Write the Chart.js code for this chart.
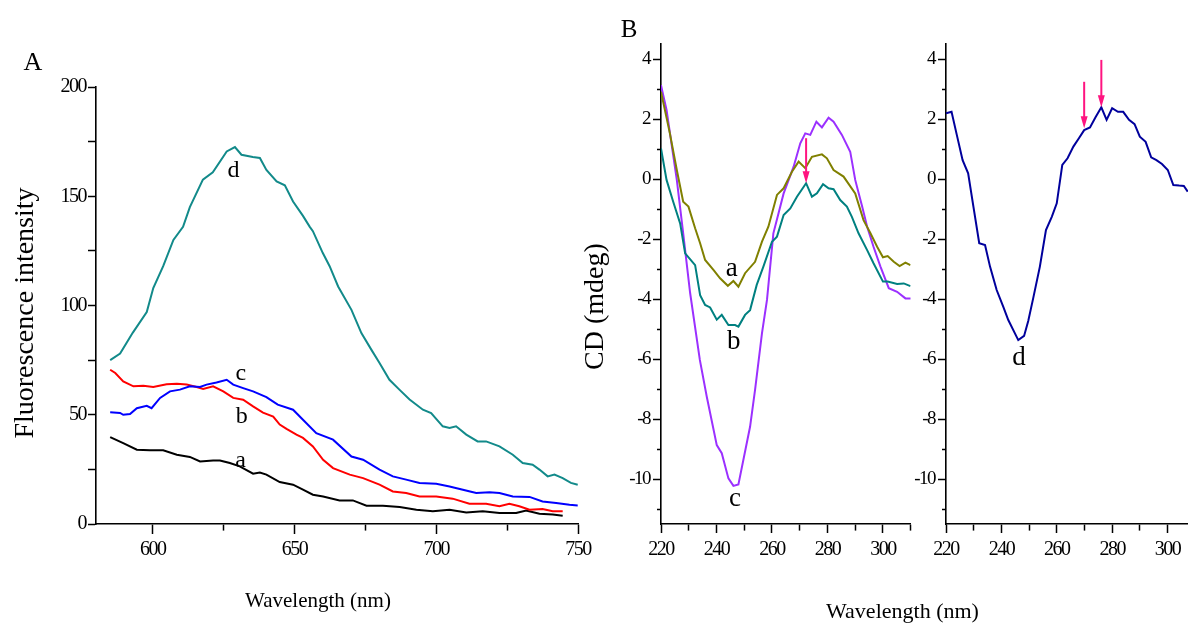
<!DOCTYPE html>
<html>
<head>
<meta charset="utf-8">
<script src="https://cdn.jsdelivr.net/npm/chart.js@4.4.1/dist/chart.umd.min.js"></script>
<style>
html, body { margin: 0; padding: 0; background: #fff; }
#wrap { position: relative; width: 1188px; height: 626px; overflow: hidden; }
canvas { position: absolute; top: 0; }
</style>
</head>
<body>
<div id="wrap">
  <canvas id="fluo" width="600" height="626" style="left:0px"></canvas>
  <canvas id="cdLeft" width="608" height="626" style="left:580px"></canvas>
  <canvas id="cdRight" width="278" height="626" style="left:910px"></canvas>
</div>
<script>
//-------------------------------------------------------- data: panel A (fluorescence)
const aX = [585.0, 589.6, 594.4, 599.0, 603.7, 608.5, 613.1, 616.7, 621.3, 623.7, 627.2, 630.7, 635.4, 637.8, 640.1, 644.8, 649.5, 653.0, 656.5, 660.1, 665.9, 670.6, 675.4, 681.2, 687.1, 693.0, 698.8, 704.7, 710.6, 716.4, 722.3, 728.2, 731.7, 736.4, 741.1, 744.6];
const aY = [39.8, 37, 34, 33.7, 33.7, 31.7, 30.7, 28.6, 29.1, 29.1, 27.9, 26.4, 23, 23.6, 22.6, 19.2, 18, 15.7, 13.4, 12.6, 10.8, 10.8, 8.4, 8.4, 7.8, 6.5, 5.8, 6.5, 5.3, 5.8, 5, 5, 6.2, 4.7, 4.3, 3.8];

const bX = [585.0, 586.8, 589.6, 593.2, 596.7, 600.2, 604.9, 608.5, 612.0, 615.5, 617.8, 621.3, 624.9, 628.4, 631.9, 635.4, 638.9, 642.5, 644.8, 647.2, 650.7, 653.0, 656.5, 660.1, 663.6, 669.5, 674.2, 680.0, 684.7, 689.4, 694.1, 700.0, 705.8, 711.7, 717.6, 722.3, 725.8, 729.3, 732.9, 737.5, 741.1, 744.6];
const bY = [70.6, 69.1, 65.3, 63, 63.3, 62.7, 64, 64.2, 63.8, 62.7, 61.8, 63, 60.7, 57.7, 56.9, 53.8, 51, 49.2, 45.5, 43.5, 40.9, 39.4, 35.5, 29.4, 25.6, 22.6, 21, 18, 14.9, 14.2, 12.6, 12.6, 11.6, 9.3, 9.3, 8.1, 9.3, 8.1, 6.5, 6.9, 5.8, 5.8];

const cX = [585.0, 588.5, 589.6, 592.0, 594.4, 597.9, 599.6, 602.6, 606.1, 609.6, 613.1, 616.7, 619.0, 622.5, 626.1, 628.4, 631.9, 635.4, 640.1, 644.1, 649.5, 653.0, 657.7, 663.6, 670.1, 674.2, 680.0, 684.7, 689.4, 694.1, 700.0, 704.7, 709.4, 714.1, 718.8, 722.3, 727.0, 732.9, 737.5, 742.3, 747.0, 749.9];
const cY = [51.1, 50.8, 50, 50.3, 53, 54.1, 53, 57.7, 60.7, 61.5, 63, 62.7, 63.8, 64.8, 66, 63.8, 62.2, 60.7, 58.1, 54.6, 52.3, 47.7, 41.6, 38.6, 30.9, 29.4, 24.9, 21.8, 20.3, 18.8, 18.4, 17.2, 15.7, 14.2, 14.5, 14.2, 12.6, 12.4, 10.3, 9.6, 8.8, 8.5];

const dX = [585.0, 588.5, 593.0, 597.9, 600.2, 603.7, 607.3, 610.7, 613.1, 617.7, 621.2, 626.1, 629.0, 631.3, 635.3, 637.8, 640.1, 643.7, 646.6, 649.5, 653.0, 655.4, 656.5, 660.0, 662.4, 665.4, 670.1, 673.6, 677.1, 680.0, 683.5, 687.0, 690.6, 695.3, 698.2, 702.3, 704.7, 707.0, 710.6, 714.6, 717.6, 722.3, 727.0, 730.5, 734.0, 736.4, 739.3, 741.7, 744.6, 747.5, 749.9];
const dY = [75, 78, 87.6, 97, 108, 118, 130, 136, 145, 157.6, 161, 170.5, 172.5, 169, 168, 167.5, 162, 156.8, 155, 147.6, 141, 136, 134, 124, 118, 108.7, 98, 87.4, 79.8, 73.7, 66, 61.5, 57, 52.3, 50.8, 44.7, 44, 44.7, 40.9, 37.8, 37.8, 35.5, 31.7, 27.9, 27.1, 24.9, 21.8, 22.6, 21, 18.8, 18];

const fluoXTicks = [600, 625, 650, 675, 700, 725, 750];
const fluoYTicks = [0, 25, 50, 75, 100, 125, 150, 175, 200];

//-------------------------------------------------------- data: panel B (CD)
const cdAX = [220, 223.2, 225.7, 228, 229.9, 232.3, 234.1, 235.9, 238.9, 241.3, 244.1, 246.1, 247.9, 250.3, 253.9, 256.4, 258.7, 261.8, 264.2, 267.2, 269.6, 272, 274.4, 278, 279.8, 282.2, 285.8, 290, 293, 295.5, 297.9, 300, 301.7, 303.9, 306, 308.1, 309.9];
const cdAY = [2.91, 1.52, 0.3, -0.76, -0.92, -1.64, -2.14, -2.7, -3.03, -3.31, -3.56, -3.4, -3.59, -3.14, -2.76, -2.09, -1.59, -0.53, -0.31, 0.24, 0.58, 0.36, 0.74, 0.82, 0.69, 0.3, 0.08, -0.48, -1.37, -1.81, -2.26, -2.61, -2.57, -2.76, -2.9, -2.79, -2.87];

const cdBX = [220, 222, 224.4, 226.9, 228.7, 232.3, 234.1, 235.9, 237.7, 240.1, 241.9, 244.3, 246.7, 247.9, 250.3, 252.1, 254.5, 256.9, 260, 261.8, 264.2, 266.6, 269, 272.3, 274.4, 276.2, 278.4, 280.4, 282.2, 284.6, 287, 288.8, 291.2, 294.3, 296.6, 300, 301.7, 305.1, 307.5, 309.9];
const cdBY = [1.02, -0.03, -0.76, -1.48, -2.48, -2.87, -3.87, -4.2, -4.28, -4.69, -4.53, -4.87, -4.87, -4.92, -4.53, -4.37, -3.53, -2.92, -2.09, -1.92, -1.2, -0.98, -0.59, -0.14, -0.59, -0.48, -0.17, -0.31, -0.34, -0.7, -0.92, -1.26, -1.81, -2.37, -2.81, -3.42, -3.42, -3.5, -3.48, -3.57];

const cdCX = [220, 222, 225.7, 228, 230.5, 234, 236.5, 240.1, 241.9, 244.3, 246.1, 247.9, 252.1, 253.9, 256.4, 258.2, 260.5, 264.2, 267.8, 270.2, 272, 273.8, 276, 278, 280.4, 282.2, 285.2, 288.2, 290, 292.5, 294.3, 296.6, 299.1, 302.1, 305.1, 308.1, 310];
const cdCY = [3.13, 2.3, -0.03, -1.81, -3.8, -6.03, -7.26, -8.87, -9.14, -9.98, -10.23, -10.18, -8.26, -7.03, -5.14, -4.03, -1.81, -0.48, 0.41, 1.19, 1.52, 1.47, 1.91, 1.72, 2.04, 1.91, 1.47, 0.91, -0.03, -0.92, -1.59, -2.26, -2.92, -3.64, -3.76, -3.98, -3.98];

const cdDX = [220, 222, 223.9, 226, 228, 229.9, 232, 234.1, 235.9, 238.3, 240.7, 242.5, 246.1, 248.2, 249.7, 251.5, 253.9, 256.1, 258.2, 260, 262, 263.9, 266, 268, 269.9, 272, 274, 276.1, 278, 280, 282.1, 284, 286.1, 288.1, 290, 292.1, 294.1, 296, 298, 300.1, 302.1, 304.2, 305.9, 307.3];
const cdDY = [2.19, 2.24, 1.47, 0.63, 0.19, -0.92, -2.14, -2.2, -2.92, -3.7, -4.26, -4.7, -5.37, -5.23, -4.73, -3.97, -2.92, -1.7, -1.26, -0.81, 0.47, 0.69, 1.08, 1.36, 1.63, 1.72, 2.06, 2.39, 1.97, 2.36, 2.24, 2.24, 1.97, 1.83, 1.41, 1.24, 0.72, 0.63, 0.5, 0.3, -0.2, -0.22, -0.23, -0.42];

const cdXTicksLeft = [220, 230, 240, 250, 260, 270, 280, 290, 300, 310];
const cdXTicksRight = [220, 230, 240, 250, 260, 270, 280, 290, 300];
const cdYTicks = [-11, -10, -9, -8, -7, -6, -5, -4, -3, -2, -1, 0, 1, 2, 3, 4];

// arrows: wavelength, start value, tip value
const arrowsLeft = [[272.3, 1.36, -0.14]];
const arrowsRight = [[269.9, 3.24, 1.69], [276.1, 3.97, 2.39]];

Chart.defaults.font.family = '"Liberation Serif", "Times New Roman", serif';
Chart.defaults.color = '#000';

function series(xs, ys, color) {
    return {
        data: xs.map((x, i) => ({ x: x, y: ys[i] })),
        borderColor: color,
        borderWidth: 2,
        pointRadius: 0,
        tension: 0,
        fill: false
    };
}

function axis(opt) {
    return {
        type: 'linear',
        min: opt.min,
        max: opt.max,
        afterBuildTicks: s => { s.ticks = opt.ticks.map(v => ({ value: v })); },
        afterFit: s => { if (opt.width) s.width = opt.width; if (opt.height) s.height = opt.height; },
        border: { display: true, color: '#000', width: 1.6 },
        grid: {
            drawOnChartArea: false,
            drawTicks: true,
            tickLength: opt.tickLen,
            color: '#000',
            tickWidth: 1.5,
            // minor ticks drawn shorter through a dash pattern
            tickBorderDash: c => (c.tick && c.tick.value % opt.every !== 0) ? opt.minorDash : []
        },
        ticks: {
            font: { size: opt.fontSize },
            padding: opt.pad,
            autoSkip: false,
            maxRotation: 0,
            callback: v => (v % opt.every === 0 ? v : '')
        }
    };
}

// curve letters, arrows and free text
const annot = {
    id: 'annot',
    beforeDraw(chart) {
        chart.ctx.letterSpacing = '-1.5px';
    },
    afterDraw(chart, args, o) {
        const ctx = chart.ctx;
        const xs = chart.scales.x, ys = chart.scales.y;
        ctx.save();
        ctx.letterSpacing = '0px';
        (o.arrows || []).forEach(a => {
            const x = xs.getPixelForValue(a[0]);
            const y0 = ys.getPixelForValue(a[1]);
            const y1 = ys.getPixelForValue(a[2]);
            ctx.strokeStyle = o.arrowColor;
            ctx.fillStyle = o.arrowColor;
            ctx.lineWidth = 2;
            ctx.beginPath();
            ctx.moveTo(x, y0);
            ctx.lineTo(x, y1 - 8);
            ctx.stroke();
            ctx.beginPath();
            ctx.moveTo(x, y1);
            ctx.lineTo(x - 3.5, y1 - 12);
            ctx.lineTo(x + 3.5, y1 - 12);
            ctx.closePath();
            ctx.fill();
        });
        ctx.fillStyle = '#000';
        ctx.textAlign = 'center';
        ctx.textBaseline = 'alphabetic';
        (o.letters || []).forEach(l => {
            ctx.font = o.letterSize + 'px "Liberation Serif", serif';
            ctx.fillText(l[0], xs.getPixelForValue(l[1]), ys.getPixelForValue(l[2]));
        });
        (o.texts || []).forEach(t => {
            ctx.save();
            ctx.font = t.size + 'px "Liberation Serif", serif';
            ctx.translate(t.x, t.y);
            if (t.rot) ctx.rotate(-Math.PI / 2);
            ctx.fillText(t.text, 0, 0);
            ctx.restore();
        });
        ctx.restore();
    }
};

function baseOptions(padding, xAxis, yAxis, annotOpts) {
    return {
        responsive: false,
        animation: false,
        layout: { padding: padding },
        scales: { x: xAxis, y: yAxis },
        plugins: {
            legend: { display: false },
            tooltip: { enabled: false },
            annot: annotOpts
        }
    };
}

//-------------------------------------------------------- A
new Chart(document.getElementById('fluo'), {
    type: 'line',
    data: {
        datasets: [
            series(dX, dY, '#128a8a'),
            series(cX, cY, '#0000ff'),
            series(bX, bY, '#ff0000'),
            series(aX, aY, '#000000')
        ]
    },
    options: baseOptions(
        { left: 0, top: 87, right: 22, bottom: 0 },
        axis({ min: 580, max: 750, ticks: fluoXTicks, every: 50, tickLen: 10, minorDash: [6, 50], fontSize: 20, pad: 4, height: 102 }),
        axis({ min: 0, max: 200, ticks: fluoYTicks, every: 50, tickLen: 8, minorDash: [], fontSize: 20, pad: 2, width: 96 }),
        {
            letterSize: 24,
            letters: [['d', 628.5, 158.8], ['c', 631.1, 66], ['b', 631.4, 46.2], ['a', 631, 26.1]],
            texts: [
                { text: 'A', x: 33, y: 69.5, size: 26 },
                { text: 'Fluorescence intensity', x: 33, y: 313, size: 28, rot: true },
                { text: 'Wavelength (nm)', x: 318, y: 606.5, size: 21 }
            ]
        }
    ),
    plugins: [annot]
});

//-------------------------------------------------------- B left
new Chart(document.getElementById('cdLeft'), {
    type: 'line',
    data: {
        datasets: [
            series(cdAX, cdAY, '#808000'),
            series(cdBX, cdBY, '#008080'),
            series(cdCX, cdCY, '#9b30ff')
        ]
    },
    options: baseOptions(
        { left: 0, top: 44, right: 277.3, bottom: 0 },
        axis({ min: 220, max: 310, ticks: cdXTicksLeft, every: 20, tickLen: 9, minorDash: [6, 50], fontSize: 20, pad: 5, height: 102 }),
        axis({ min: -11.5, max: 4.5, ticks: cdYTicks, every: 2, tickLen: 8, minorDash: [0, 4, 50, 0], fontSize: 19, pad: 3, width: 81 }),
        {
            letterSize: 27,
            arrowColor: '#ff1480',
            arrows: arrowsLeft,
            letters: [['a', 245.5, -3.23], ['b', 246.2, -5.68], ['c', 246.7, -10.9]],
            texts: [
                { text: 'B', x: 49, y: 36.7, size: 25 },
                { text: 'CD (mdeg)', x: 23, y: 306.5, size: 28, rot: true },
                { text: 'Wavelength (nm)', x: 322.5, y: 618, size: 22 }
            ]
        }
    ),
    plugins: [annot]
});

//-------------------------------------------------------- B right
new Chart(document.getElementById('cdRight'), {
    type: 'line',
    data: {
        datasets: [
            series(cdDX, cdDY, '#00009c')
        ]
    },
    options: baseOptions(
        { left: 0, top: 44, right: 0, bottom: 0 },
        axis({ min: 220, max: 307.4, ticks: cdXTicksRight, every: 20, tickLen: 9, minorDash: [6, 50], fontSize: 20, pad: 5, height: 102 }),
        axis({ min: -11.5, max: 4.5, ticks: cdYTicks, every: 2, tickLen: 8, minorDash: [0, 4, 50, 0], fontSize: 19, pad: 3, width: 36 }),
        {
            letterSize: 27,
            arrowColor: '#ff1480',
            arrows: arrowsRight,
            letters: [['d', 246.4, -6.2]],
            texts: []
        }
    ),
    plugins: [annot]
});
</script>
</body>
</html>
